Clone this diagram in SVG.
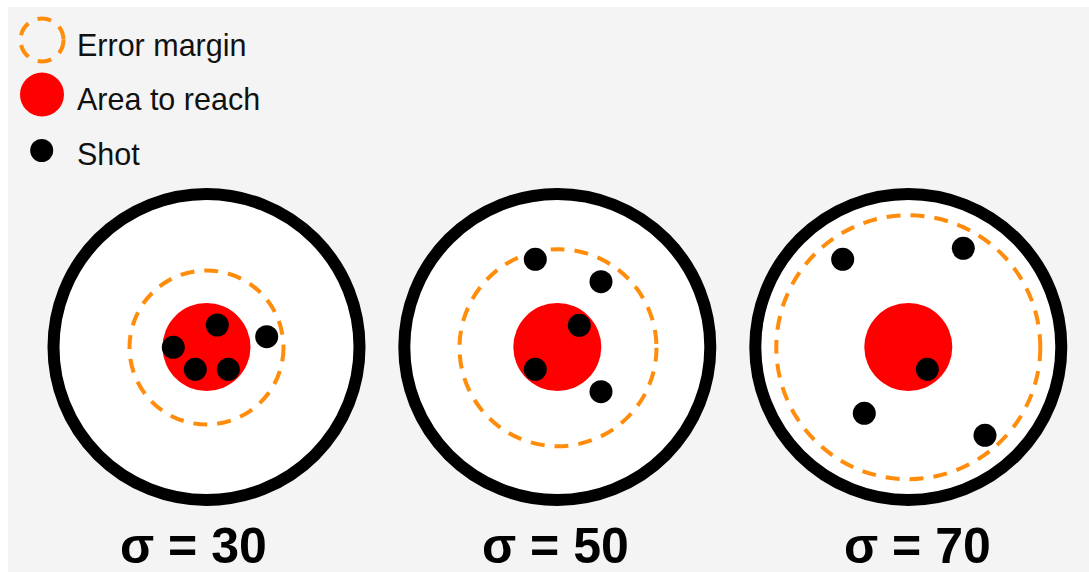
<svg xmlns="http://www.w3.org/2000/svg" width="1089" height="572" viewBox="0 0 1089 572">
<style>
.bg{fill:#f4f4f4}
.target{fill:#ffffff;stroke:#000;stroke-width:12}
.margin{fill:none;stroke:#ff8c0a;stroke-width:4;stroke-dasharray:14 10}
.area{fill:#ff0000}
.shot{fill:#000}
.leg{font-family:"Liberation Sans",Arial,sans-serif;font-size:30.5px;fill:#111}
.sig{font-family:"Liberation Sans",Arial,sans-serif;font-size:50px;font-weight:bold;fill:#000}
</style>
<rect x="0" y="0" width="1089" height="572" fill="#ffffff"/>
<rect class="bg" x="8" y="7" width="1081" height="565"/>
<g id="legend">
<g id="legend-margin"><circle class="margin" cx="42" cy="40" r="21.5" stroke-dasharray="10 6.5"/><text class="leg" x="77" y="56">Error margin</text></g>
<g id="legend-area"><circle class="area" cx="42" cy="94.5" r="22"/><text class="leg" x="77" y="110">Area to reach</text></g>
<g id="legend-shot"><circle class="shot" cx="41.7" cy="150.5" r="11.5"/><text class="leg" x="77" y="165">Shot</text></g>
</g>
<g id="target1">
<circle class="target" cx="206.5" cy="347" r="153"/>
<circle class="margin" cx="206.5" cy="347.5" r="77"/>
<circle class="area" cx="206.5" cy="347" r="44"/>
<circle class="shot" cx="217.3" cy="325" r="11.5"/>
<circle class="shot" cx="173.3" cy="347.3" r="11.5"/>
<circle class="shot" cx="195.3" cy="369.3" r="11.5"/>
<circle class="shot" cx="228.3" cy="369.3" r="11.5"/>
<circle class="shot" cx="266.7" cy="336.7" r="11.5"/>
<text class="sig" x="120" y="563">σ = 30</text>
</g>
<g id="target2">
<circle class="target" cx="557.3" cy="347" r="153"/>
<circle class="margin" cx="558" cy="347.7" r="98.5"/>
<circle class="area" cx="557.3" cy="347" r="44"/>
<circle class="shot" cx="535.3" cy="259.3" r="11.5"/>
<circle class="shot" cx="601" cy="281.7" r="11.5"/>
<circle class="shot" cx="579.3" cy="325.3" r="11.5"/>
<circle class="shot" cx="535.3" cy="369.3" r="11.5"/>
<circle class="shot" cx="601" cy="391.7" r="11.5"/>
<text class="sig" x="482" y="563">σ = 50</text>
</g>
<g id="target3">
<circle class="target" cx="908.3" cy="347" r="153"/>
<circle class="margin" cx="908.3" cy="347.2" r="132"/>
<circle class="area" cx="908.3" cy="347" r="44"/>
<circle class="shot" cx="842.7" cy="259.3" r="11.5"/>
<circle class="shot" cx="963.3" cy="248.3" r="11.5"/>
<circle class="shot" cx="927.3" cy="369.3" r="11.5"/>
<circle class="shot" cx="864.3" cy="413.3" r="11.5"/>
<circle class="shot" cx="985" cy="435.3" r="11.5"/>
<text class="sig" x="844" y="563">σ = 70</text>
</g>
<g id="connectors"/>
</svg>
